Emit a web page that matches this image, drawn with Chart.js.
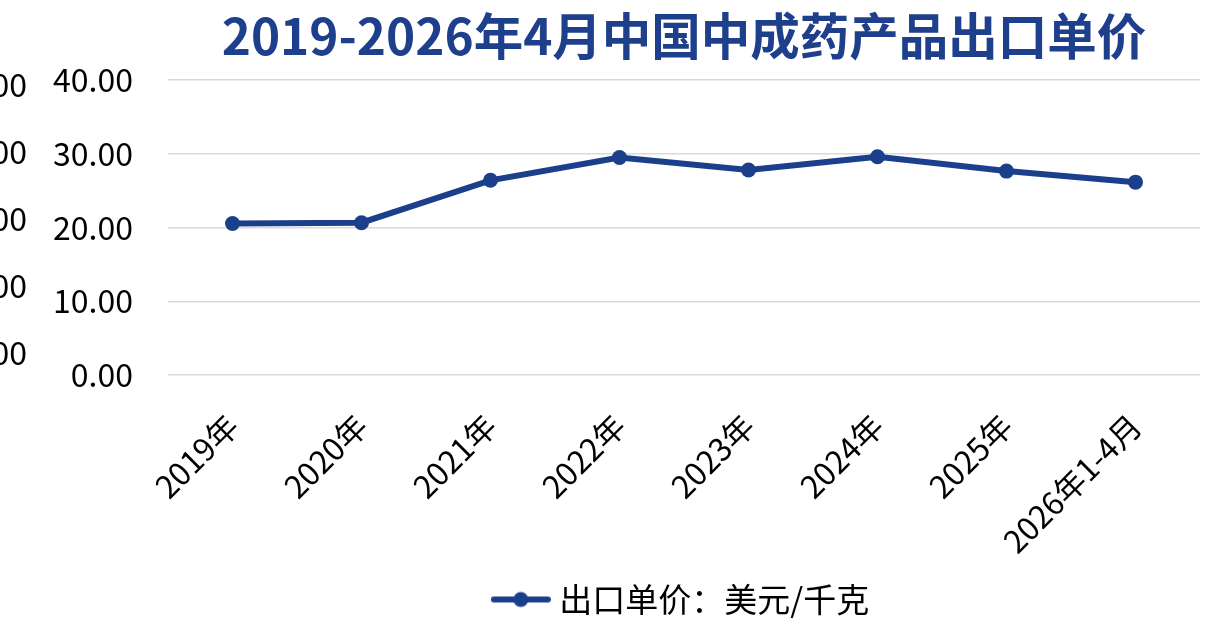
<!DOCTYPE html>
<html><head><meta charset="utf-8">
<style>
html,body{margin:0;padding:0;overflow:hidden;background:#fff;width:1230px;height:626px}
#wrap{position:absolute;left:-80px;top:0;width:1310px;height:626px}
</style>
<script src="https://cdn.jsdelivr.net/npm/chart.js@4/dist/chart.umd.min.js"></script>
</head><body>
<div id="wrap"><canvas id="c"></canvas></div>
<script>
const titleText = '2019-2026年4月中国中成药产品出口单价';
const categories = ['2019年','2020年','2021年','2022年','2023年','2024年','2025年','2026年1-4月'];
const seriesName = '出口单价：美元/千克';
const unitPrice = [20.55, 20.65, 26.4, 29.5, 27.8, 29.6, 27.65, 26.15];
const yTicks = [0, 10, 20, 30, 40];

const FONT = '"Noto Sans CJK SC","Noto Sans",sans-serif';
const lineColor = '#1C3F8C';
const titleColor = '#1E3F8B';

// legend marker: line with a dot
const mk = document.createElement('canvas');
mk.width = 60; mk.height = 18;
(function(){
  const g = mk.getContext('2d');
  g.strokeStyle = lineColor; g.lineWidth = 6; g.lineCap = 'round';
  g.beginPath(); g.moveTo(3, 9); g.lineTo(57, 9); g.stroke();
  g.fillStyle = lineColor; g.beginPath(); g.arc(30, 9, 7.5, 0, Math.PI * 2); g.fill();
})();

const fixTicks = a => { a.ticks = yTicks.map(v => ({ value: v })); };

new Chart(document.getElementById('c'), {
  type: 'line',
  data: {
    labels: categories,
    datasets: [{
      label: seriesName,
      data: unitPrice,
      borderColor: lineColor,
      backgroundColor: lineColor,
      borderWidth: 6,
      pointRadius: 7.5,
      pointBackgroundColor: lineColor,
      pointBorderWidth: 0,
      tension: 0,
      yAxisID: 'y'
    }]
  },
  options: {
    responsive: true,
    maintainAspectRatio: false,
    animation: false,
    devicePixelRatio: 1,
    layout: { padding: { left: 0, right: 30, top: 0, bottom: 0 } },
    plugins: {
      title: {
        display: true, text: titleText, fullSize: false, color: titleColor,
        font: { family: FONT, size: 49.5, weight: 'bold' },
        padding: { top: 6, bottom: 14.6 }
      },
      legend: {
        position: 'bottom', fullSize: false,
        labels: {
          usePointStyle: true, pointStyle: mk, pointStyleWidth: 44, boxHeight: 18,
          color: '#000', font: { family: FONT, size: 33 }, padding: 6
        }
      },
      tooltip: { enabled: false }
    },
    scales: {
      x: {
        offset: true,
        afterFit: a => { a.height = 202; },
        grid: { display: false }, border: { display: false },
        ticks: { minRotation: 45, maxRotation: 45, color: '#000', font: { family: FONT, size: 31.5 }, padding: 24 }
      },
      y: {
        position: 'left', weight: 0, min: 0, max: 40,
        afterBuildTicks: fixTicks,
        afterFit: a => { a.width = 120; },
        grid: { color: '#d9d9d9', lineWidth: 1.5, drawTicks: false },
        border: { display: false },
        ticks: { padding: 35, color: '#000', font: { family: FONT, size: 32 }, callback: v => Number(v).toFixed(2) }
      },
      y2: {
        position: 'left', weight: 1, min: -3.28, max: 40.75,
        afterBuildTicks: fixTicks,
        afterFit: a => { a.width = 128; },
        grid: { display: false }, border: { display: false },
        ticks: { padding: 13, color: '#000', font: { family: FONT, size: 32 }, callback: v => Number(v).toFixed(2) }
      }
    }
  }
});
</script>
</body></html>
